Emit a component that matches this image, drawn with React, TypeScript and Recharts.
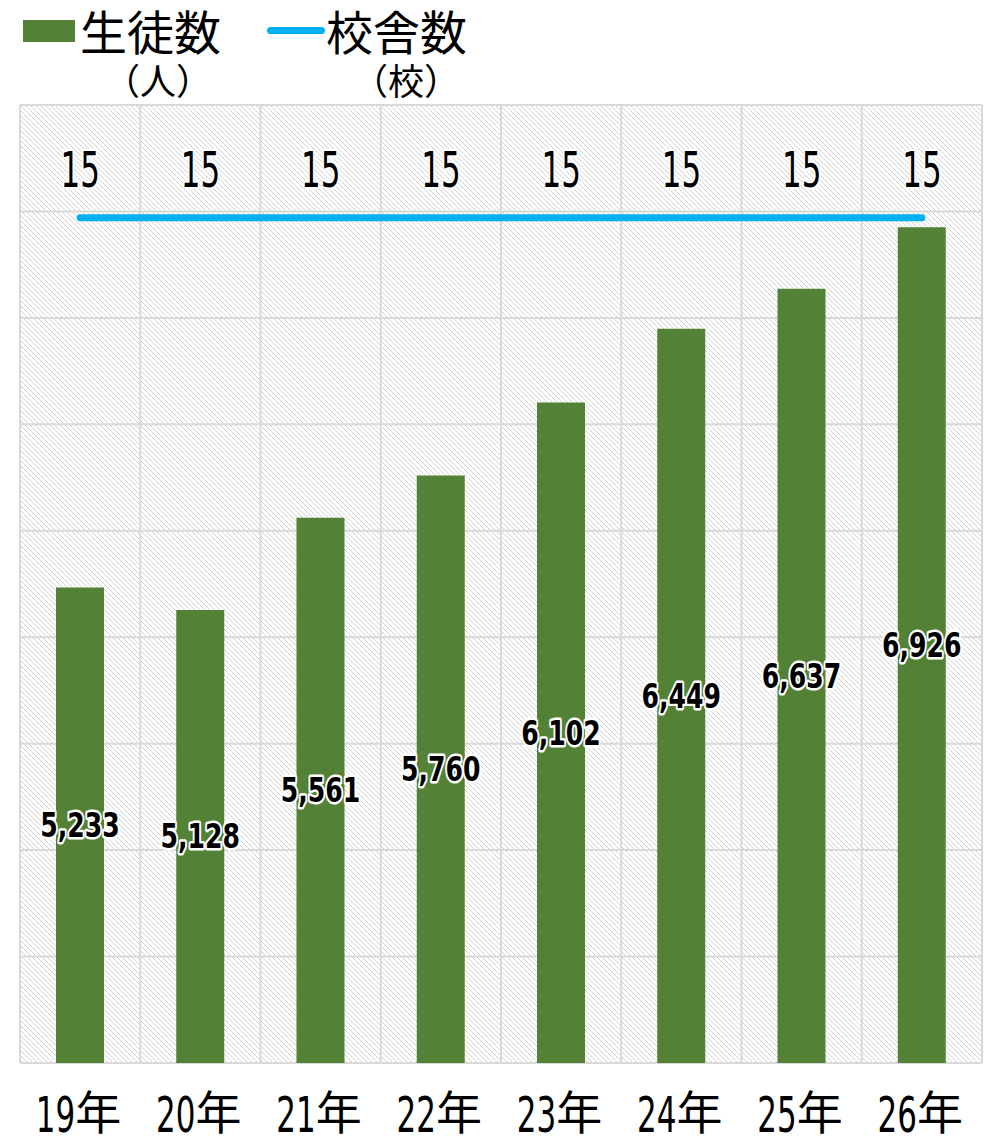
import { ComposedChart, Bar, Line, XAxis, YAxis, CartesianGrid, LabelList } from 'recharts';

const years = ['19年', '20年', '21年', '22年', '23年', '24年', '25年', '26年'];
const students = [5233, 5128, 5561, 5760, 6102, 6449, 6637, 6926];
const schools = [15, 15, 15, 15, 15, 15, 15, 15];
const studentTicks = [3000, 3500, 4000, 4500, 5000, 5500, 6000, 6500, 7000, 7500];

const data = years.map((year, i) => ({ year, students: students[i], schools: schools[i] }));

const NUM = '"DejaVu Sans", sans-serif';
const JP = '"Noto Sans CJK JP", sans-serif';

function BarValue(props: any) {
  const vb = props.viewBox ?? props;
  const cx = vb.x + vb.width / 2;
  const cy = vb.y + vb.height / 2;
  return (
    <text transform={`translate(${cx},${cy}) scale(0.74,1)`} x={0} y={0} dy={12} textAnchor="middle" fontFamily={NUM}
      fontWeight="bold" fontSize={34} fill="#000" stroke="#fff" strokeWidth={5} strokeLinejoin="round" paintOrder="stroke">
      {Number(props.value).toLocaleString('en-US')}
    </text>
  );
}

function SchoolValue(props: any) {
  const vb = props.viewBox ?? props;
  const cx = vb.x + (vb.width || 0) / 2;
  return (
    <text transform={`translate(${cx},${vb.y - 31}) scale(0.62,1)`} x={0} y={0} textAnchor="middle" fontFamily={NUM}
      fontSize={50} fill="#000" stroke="#fff" strokeWidth={4} strokeLinejoin="round" paintOrder="stroke">
      {props.value}
    </text>
  );
}

function YearTick(props: any) {
  const { x, y, payload } = props;
  const label: string = payload.value;
  const num = label.replace('年', '');
  return (
    <g>
      <text transform={`translate(${x - 5},${y + 67}) scale(0.62,1)`} x={0} y={0} textAnchor="end" fontFamily={NUM}
        fontSize={50} fill="#000">{num}</text>
      <text x={x - 5} y={y + 64} textAnchor="start" fontFamily={JP} fontSize={46} fill="#000">年</text>
    </g>
  );
}

function Legend() {
  return (
    <div style={{ position: 'absolute', left: 0, top: 0, width: 993, height: 105, fontFamily: JP, color: '#000' }}>
      <div style={{ position: 'absolute', left: 23, top: 20, width: 52, height: 22, background: '#538135' }} />
      <div style={{ position: 'absolute', left: 80, top: 5, fontSize: 47, lineHeight: '50px', whiteSpace: 'nowrap' }}>生徒数</div>
      <div style={{ position: 'absolute', left: 104, top: 58, fontSize: 36, lineHeight: '42px', whiteSpace: 'nowrap' }}>（人）</div>
      <div style={{ position: 'absolute', left: 267, top: 27, width: 58, height: 7, borderRadius: 4, background: '#00b0f0' }} />
      <div style={{ position: 'absolute', left: 326, top: 5, fontSize: 47, lineHeight: '50px', whiteSpace: 'nowrap' }}>校舎数</div>
      <div style={{ position: 'absolute', left: 352, top: 58, fontSize: 36, lineHeight: '42px', whiteSpace: 'nowrap' }}>（校）</div>
    </div>
  );
}

export default function App() {
  return (
    <div style={{ position: 'absolute', left: 0, top: 0, width: 993, height: 1138, background: '#fff' }}>
      <ComposedChart width={993} height={1138} data={data} margin={{ top: 105, right: 11, bottom: 0, left: 20 }}>
        <defs>
          <pattern id="hatch" width={5} height={5} patternUnits="userSpaceOnUse">
            <rect width={5} height={5} fill="#ffffff" />
            <path d="M0,0 L5,5 M-1,4 L1,6 M4,-1 L6,1" stroke="#d2d2d2" strokeWidth={1} />
          </pattern>
        </defs>
        <CartesianGrid yAxisId="left" xAxisId="cat" fill="url(#hatch)" fillOpacity={1} stroke="#d9d9d9" strokeWidth={2}
          verticalCoordinatesGenerator={({ offset }: any) =>
            years.map((_, i) => offset.left + (i * offset.width) / years.length).concat(offset.left + offset.width)} />
        <XAxis xAxisId="cat" dataKey="year" axisLine={false} tickLine={false} tickSize={0} height={75}
          interval={0} tick={<YearTick />} />
        <YAxis yAxisId="left" hide domain={[3000, 7500]} ticks={studentTicks} allowDataOverflow />
        <YAxis yAxisId="right" hide orientation="right" domain={[0, 17]} />
        <Bar xAxisId="cat" yAxisId="left" dataKey="students" fill="#538135" barSize={48} isAnimationActive={false}>
          <LabelList dataKey="students" position="center" content={BarValue} />
        </Bar>
        <Line xAxisId="cat" yAxisId="right" dataKey="schools" stroke="#00b0f0" strokeWidth={7} strokeLinecap="round"
          dot={false} activeDot={false} isAnimationActive={false}>
          <LabelList dataKey="schools" position="top" content={SchoolValue} />
        </Line>
      </ComposedChart>
      <Legend />
    </div>
  );
}
